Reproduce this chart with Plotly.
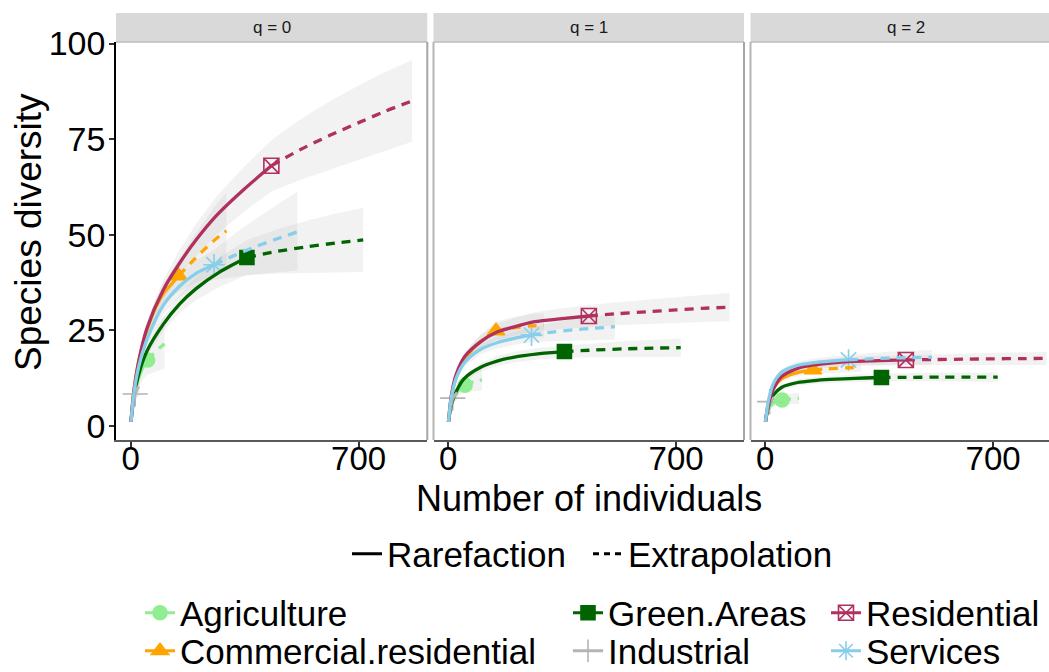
import plotly.graph_objects as go

# ---------------- data ----------------
SERIES = ["Agriculture", "Commercial.residential", "Green.Areas",
          "Industrial", "Residential", "Services"]
PANELS = ["q = 0", "q = 1", "q = 2"]
X_TICKS = [0, 700]
Y_TICKS = [0, 25, 50, 75, 100]

# Agriculture
AGR_RARE_X = [1, 5, 10, 20, 30, 40, 52]
AGR_EXT_X = [52, 65, 78, 91, 104]
AGR_RARE_Y = [[1, 4.6, 7.6, 11.2, 13.7, 15.6, 17.2],
              [1, 3.8, 5.8, 7.8, 9.0, 9.9, 10.6],
              [1, 3.2, 4.4, 5.5, 6.1, 6.45, 6.7]]
AGR_EXT_Y = [[17.2, 18.4, 19.5, 20.5, 21.4],
             [10.6, 11.1, 11.5, 11.8, 12.0],
             [6.7, 6.85, 7.0, 7.1, 7.2]]
AGR_LO = [[1, 3.9, 6.3, 9.2, 11.0, 12.3, 13.3, 13.8, 14.2, 14.6, 15.0],
          [1, 3.3, 5.0, 6.6, 7.5, 8.2, 8.7, 8.9, 9.1, 9.2, 9.3],
          [1, 2.8, 3.8, 4.6, 5.0, 5.3, 5.5, 5.6, 5.6, 5.7, 5.7]]
AGR_HI = [[1, 5.3, 8.9, 13.2, 16.4, 18.9, 21.1, 23.5, 25.6, 27.4, 29.0],
          [1, 4.3, 6.6, 9.0, 10.5, 11.6, 12.5, 13.3, 13.9, 14.4, 14.7],
          [1, 3.6, 5.0, 6.4, 7.2, 7.6, 7.9, 8.1, 8.3, 8.5, 8.7]]

# Commercial.residential
COM_RARE_X = [1, 10, 25, 50, 75, 100, 125, 147]
COM_EXT_X = [147, 185, 220, 255, 294]
COM_RARE_Y = [[1, 9.5, 17, 25, 30.5, 34.5, 37, 39.2],
              [1, 7.5, 12.8, 17.2, 20.0, 22.0, 23.5, 24.8],
              [1, 6.2, 9.8, 12.2, 13.3, 13.9, 14.3, 14.6]]
COM_EXT_Y = [[39.2, 42.6, 45.6, 48.4, 51.0],
             [24.8, 25.4, 25.8, 26.1, 26.3],
             [14.6, 14.85, 15.0, 15.15, 15.3]]
COM_LO = [[1, 9.0, 16.0, 23.3, 28.2, 31.6, 33.6, 35.0, 36.8, 38.2, 39.4, 40.5],
          [1, 7.1, 12.0, 16.0, 18.5, 20.2, 21.4, 22.4, 22.7, 22.9, 23.0, 23.1],
          [1, 5.9, 9.3, 11.5, 12.5, 13.0, 13.4, 13.6, 13.8, 13.9, 14.0, 14.1]]
COM_HI = [[1, 10.0, 18.0, 26.7, 32.8, 37.4, 40.4, 43.4, 48.4, 52.8, 57.0, 61.0],
          [1, 7.9, 13.6, 18.4, 21.5, 23.8, 25.6, 27.2, 28.1, 28.7, 29.2, 29.5],
          [1, 6.5, 10.3, 12.9, 14.1, 14.8, 15.2, 15.6, 15.9, 16.1, 16.3, 16.5]]

# Green.Areas
GRE_RARE_X = [1, 10, 25, 50, 100, 150, 200, 275, 357]
GRE_EXT_X = [357, 450, 540, 630, 714]
GRE_RARE_Y = [[1, 7.5, 13.5, 19.5, 26.5, 31.8, 35.8, 40.3, 44.0],
              [1, 5.5, 9.0, 12.4, 15.3, 16.9, 17.9, 18.8, 19.4],
              [1, 5.0, 8.0, 10.0, 11.3, 11.8, 12.1, 12.4, 12.6]]
GRE_EXT_Y = [[44.0, 45.6, 46.8, 47.8, 48.6],
             [19.4, 19.8, 20.1, 20.3, 20.4],
             [12.6, 12.65, 12.7, 12.7, 12.7]]
GRE_LO = [[1, 7.1, 12.7, 18.3, 24.7, 29.4, 32.8, 36.4, 39.4, 39.8, 40.0, 40.1, 40.2],
          [1, 5.2, 8.5, 11.6, 14.2, 15.6, 16.5, 17.3, 17.8, 17.9, 18.0, 18.0, 18.0],
          [1, 4.7, 7.5, 9.3, 10.5, 10.9, 11.2, 11.4, 11.6, 11.5, 11.5, 11.5, 11.5]]
GRE_HI = [[1, 7.9, 14.3, 20.7, 28.3, 34.2, 38.8, 44.2, 48.6, 51.4, 53.6, 55.5, 57.0],
          [1, 5.8, 9.5, 13.2, 16.4, 18.2, 19.3, 20.3, 21.0, 21.6, 22.1, 22.5, 22.8],
          [1, 5.3, 8.5, 10.7, 12.1, 12.7, 13.0, 13.4, 13.6, 13.8, 13.9, 13.9, 13.9]]

# Industrial
IND_RARE_X = [1, 4, 8, 14]
IND_EXT_X = [14, 21, 28]
IND_RARE_Y = [[1, 3.4, 5.6, 8.3],
              [1, 3.3, 5.2, 7.2],
              [1, 3.1, 4.8, 6.3]]
IND_EXT_Y = [[8.3, 9.8, 11.0],
             [7.2, 8.0, 8.6],
             [6.3, 6.9, 7.3]]
IND_LO = [[1, 3.0, 4.8, 6.8, 7.4, 7.8],
          [1, 2.9, 4.5, 6.0, 6.4, 6.6],
          [1, 2.8, 4.2, 5.3, 5.5, 5.6]]
IND_HI = [[1, 3.8, 6.4, 9.8, 12.2, 14.2],
          [1, 3.7, 5.9, 8.4, 9.6, 10.6],
          [1, 3.4, 5.4, 7.3, 8.3, 9.0]]

# Residential
RES_RARE_X = [1, 10, 25, 50, 100, 150, 200, 266, 350, 432]
RES_EXT_X = [432, 520, 610, 700, 780, 864]
RES_RARE_Y = [[1, 9, 17, 25.5, 35.5, 42.5, 48.5, 55.2, 62.0, 68.0],
              [1, 8, 13.5, 18, 22, 24.5, 25.8, 27.2, 28.0, 28.7],
              [1, 5.5, 9.5, 12.8, 15.0, 15.9, 16.4, 16.8, 17.0, 17.2]]
RES_EXT_Y = [[68.0, 72.2, 75.9, 79.3, 82.2, 85.0],
             [28.7, 29.3, 29.8, 30.3, 30.7, 31.0],
             [17.2, 17.3, 17.4, 17.5, 17.55, 17.6]]
RES_LO = [[1, 8.6, 16.0, 23.8, 32.9, 39.0, 44.3, 50.2, 56.1, 61.3, 64.3, 67.0, 69.6, 71.9, 74.3],
          [1, 7.6, 12.7, 16.7, 20.2, 22.4, 23.5, 24.7, 25.3, 25.8, 26.3, 26.6, 26.9, 27.1, 27.3],
          [1, 5.2, 9.0, 12.0, 14.0, 14.8, 15.2, 15.6, 15.7, 15.9, 15.9, 15.9, 15.9, 15.9, 15.9]]
RES_HI = [[1, 9.4, 18.0, 27.2, 38.1, 46.0, 52.7, 60.2, 67.9, 74.7, 80.1, 84.8, 89.0, 92.5, 95.7],
          [1, 8.4, 14.3, 19.3, 23.8, 26.6, 28.1, 29.7, 30.7, 31.6, 32.3, 33.0, 33.7, 34.2, 34.7],
          [1, 5.8, 10.0, 13.6, 16.0, 17.0, 17.6, 18.0, 18.3, 18.5, 18.7, 18.9, 19.1, 19.2, 19.3]]

# Services
SER_RARE_X = [1, 10, 25, 50, 100, 150, 200, 256]
SER_EXT_X = [256, 320, 385, 450, 512]
SER_RARE_Y = [[1, 8.5, 15.5, 22.5, 31.5, 36.5, 39.8, 42.1],
              [1, 7.5, 12.5, 16.5, 20.0, 21.7, 22.8, 23.7],
              [1, 6.5, 11.0, 14.0, 15.8, 16.5, 16.9, 17.2]]
SER_EXT_Y = [[42.1, 44.6, 46.9, 48.9, 50.7],
             [23.7, 24.5, 25.1, 25.5, 25.9],
             [17.2, 17.5, 17.7, 17.8, 17.9]]
SER_LO = [[1, 8.1, 14.6, 21.0, 29.2, 33.6, 36.4, 38.2, 38.9, 39.6, 40.2, 40.6],
          [1, 7.1, 11.8, 15.5, 18.7, 20.2, 21.1, 21.8, 22.1, 22.3, 22.4, 22.5],
          [1, 6.2, 10.4, 13.2, 14.8, 15.4, 15.7, 15.9, 16.0, 16.0, 16.0, 16.0]]
SER_HI = [[1, 8.9, 16.4, 24.0, 33.8, 39.4, 43.2, 46.0, 50.3, 54.2, 57.8, 61.2],
          [1, 7.9, 13.2, 17.5, 21.3, 23.2, 24.5, 25.6, 26.9, 27.9, 28.6, 29.3],
          [1, 6.8, 11.6, 14.8, 16.8, 17.6, 18.1, 18.5, 19.0, 19.4, 19.6, 19.8]]

# ---------------- styles ----------------
COLORS = {"Agriculture": "#90EE90", "Commercial.residential": "#FFA500",
          "Green.Areas": "#006400", "Industrial": "#B4B4B4",
          "Residential": "#B03060", "Services": "#87CEEB"}
SYMBOLS = {"Agriculture": ("circle", 14), "Commercial.residential": ("triangle-up", 15),
           "Green.Areas": ("square", 14), "Industrial": ("cross-thin-open", 18),
           "Residential": ("square-x-open", 15), "Services": ("asterisk-open", 18)}

DATA = {
    "Agriculture": (AGR_RARE_X, AGR_EXT_X, AGR_RARE_Y, AGR_EXT_Y, AGR_LO, AGR_HI),
    "Commercial.residential": (COM_RARE_X, COM_EXT_X, COM_RARE_Y, COM_EXT_Y, COM_LO, COM_HI),
    "Green.Areas": (GRE_RARE_X, GRE_EXT_X, GRE_RARE_Y, GRE_EXT_Y, GRE_LO, GRE_HI),
    "Industrial": (IND_RARE_X, IND_EXT_X, IND_RARE_Y, IND_EXT_Y, IND_LO, IND_HI),
    "Residential": (RES_RARE_X, RES_EXT_X, RES_RARE_Y, RES_EXT_Y, RES_LO, RES_HI),
    "Services": (SER_RARE_X, SER_EXT_X, SER_RARE_Y, SER_EXT_Y, SER_LO, SER_HI),
}

W, H = 1049, 672
FONT = "Arial, 'Liberation Sans', sans-serif"
PANEL_PX = [(116, 427.3), (433.5, 744), (750.5, 1049)]
TOP_PX, BOT_PX = 42, 440
STRIP_TOP = 13
PX_PER_UNIT = 0.3257
X_LEFT = -45
Y_RANGE = [-3.75, 100.4]


def px(xp):
    return xp / W


def py(yp):
    return 1 - yp / H


fig = go.Figure()
axes = ["x", "x2", "x3"]
LW = 3.3

for p in range(3):
    xa = axes[p]
    # ribbons
    for s in SERIES:
        rx, ex, ry, ey, lo, hi = DATA[s]
        xs = rx + ex[1:]
        fig.add_trace(go.Scatter(
            x=xs + xs[::-1], y=hi[p] + lo[p][::-1], xaxis=xa, yaxis="y",
            fill="toself", fillcolor="rgba(175,175,175,0.16)", line=dict(width=0),
            mode="lines", hoverinfo="skip", showlegend=False))
    # observed points
    for s in SERIES:
        rx, ex, ry, ey, lo, hi = DATA[s]
        sym, size = SYMBOLS[s]
        fig.add_trace(go.Scatter(
            x=[rx[-1]], y=[ry[p][-1]], xaxis=xa, yaxis="y", mode="markers",
            marker=dict(symbol=sym, size=size, color=COLORS[s],
                        line=dict(color=COLORS[s], width=1.6)),
            showlegend=False))
    # lines
    for s in SERIES:
        rx, ex, ry, ey, lo, hi = DATA[s]
        fig.add_trace(go.Scatter(
            x=rx, y=ry[p], xaxis=xa, yaxis="y", mode="lines",
            line=dict(color=COLORS[s], width=LW, shape="spline", smoothing=0.8),
            showlegend=False))
        fig.add_trace(go.Scatter(
            x=ex, y=ey[p], xaxis=xa, yaxis="y", mode="lines",
            line=dict(color=COLORS[s], width=LW, dash="9px,7px", shape="spline",
                      smoothing=0.8),
            showlegend=False))

# ---------------- legends ----------------
LEG_FONT = 35
fig.add_trace(go.Scatter(x=[None], y=[None], mode="lines", name="Rarefaction",
                         line=dict(color="black", width=3), legend="legend"))
fig.add_trace(go.Scatter(x=[None], y=[None], mode="lines", name="Extrapolation",
                         line=dict(color="black", width=3, dash="6px,5px"),
                         legend="legend2"))
LEG_POS = {"Agriculture": (180, 613), "Commercial.residential": (180, 651),
           "Green.Areas": (608, 613), "Industrial": (608, 651),
           "Residential": (866, 613), "Services": (866, 651)}
legend_layout = {}
for i, s in enumerate(SERIES):
    key = "legend%d" % (i + 3)
    sym, size = SYMBOLS[s]
    fig.add_trace(go.Scatter(
        x=[None], y=[None], mode="lines+markers", name=s, legend=key,
        line=dict(color=COLORS[s], width=3),
        marker=dict(symbol=sym, size=size, color=COLORS[s],
                    line=dict(color=COLORS[s], width=1.6))))
    tx, ty = LEG_POS[s]
    legend_layout[key] = dict(x=px(tx - 40), y=py(ty), xanchor="left", yanchor="middle",
                              font=dict(size=LEG_FONT, family=FONT, color="black"),
                              bgcolor="rgba(0,0,0,0)", borderwidth=0)

legend_layout["legend"] = dict(x=px(387 - 40), y=py(554), xanchor="left", yanchor="middle",
                               font=dict(size=LEG_FONT, family=FONT, color="black"),
                               bgcolor="rgba(0,0,0,0)", borderwidth=0)
legend_layout["legend2"] = dict(x=px(628 - 40), y=py(554), xanchor="left", yanchor="middle",
                                font=dict(size=LEG_FONT, family=FONT, color="black"),
                                bgcolor="rgba(0,0,0,0)", borderwidth=0)

# ---------------- axes ----------------
layout_axes = {}
for p in range(3):
    l, r = PANEL_PX[p]
    xr = [X_LEFT, X_LEFT + (r - l) / PX_PER_UNIT]
    name = "xaxis" if p == 0 else "xaxis%d" % (p + 1)
    layout_axes[name] = dict(
        domain=[px(l), px(r)], range=xr, anchor="y",
        tickvals=X_TICKS, ticktext=[str(v) for v in X_TICKS],
        ticks="outside", ticklen=5, tickwidth=1.5, tickcolor="#333333",
        ticklabelstandoff=-17,
        showline=True, linecolor="#5a5a5a", linewidth=2,
        showgrid=False, zeroline=False,
        tickfont=dict(size=33, family=FONT, color="black"))
layout_axes["yaxis"] = dict(
    domain=[py(BOT_PX), py(TOP_PX)], range=Y_RANGE, anchor="x",
    tickvals=Y_TICKS, ticktext=[str(v) for v in Y_TICKS],
    ticks="outside", ticklen=5, tickwidth=1.5, tickcolor="#333333",
    ticklabelstandoff=-3,
    showline=True, linecolor="black", linewidth=1.5,
    showgrid=False, zeroline=False,
    tickfont=dict(size=34, family=FONT, color="black"))

# ---------------- shapes: strips and panel borders ----------------
shapes = []
annotations = []
for p in range(3):
    l, r = PANEL_PX[p]
    shapes.append(dict(type="rect", xref="paper", yref="paper",
                       x0=px(l), x1=px(r), y0=py(TOP_PX), y1=py(STRIP_TOP),
                       fillcolor="#D9D9D9", line=dict(width=0), layer="below"))
    shapes.append(dict(type="line", xref="paper", yref="paper",
                       x0=px(l), x1=px(r), y0=py(TOP_PX), y1=py(TOP_PX),
                       line=dict(color="#BDBDBD", width=1.5)))
    if p < 2:
        shapes.append(dict(type="line", xref="paper", yref="paper",
                           x0=px(r), x1=px(r), y0=py(BOT_PX), y1=py(TOP_PX),
                           line=dict(color="#A6A6A6", width=2)))
    if p > 0:
        shapes.append(dict(type="line", xref="paper", yref="paper",
                           x0=px(l), x1=px(l), y0=py(BOT_PX), y1=py(TOP_PX),
                           line=dict(color="#B5B5B5", width=2)))
    cx = (l + (l + 311)) / 2
    annotations.append(dict(text=PANELS[p], xref="paper", yref="paper",
                            x=px(cx), y=py((STRIP_TOP + TOP_PX) / 2),
                            showarrow=False, xanchor="center", yanchor="middle",
                            font=dict(size=17, family=FONT, color="#1A1A1A")))

annotations.append(dict(text="Species diversity", xref="paper", yref="paper",
                        x=px(28), y=py(232), textangle=-90, showarrow=False,
                        xanchor="center", yanchor="middle",
                        font=dict(size=37, family=FONT, color="black")))
annotations.append(dict(text="Number of individuals", xref="paper", yref="paper",
                        x=px(588.5), y=py(498), showarrow=False,
                        xanchor="center", yanchor="middle",
                        font=dict(size=36, family=FONT, color="black")))

fig.update_layout(
    width=W, height=H,
    margin=dict(l=0, r=0, t=0, b=0, autoexpand=False),
    paper_bgcolor="white", plot_bgcolor="white",
    font=dict(family=FONT, color="black"),
    shapes=shapes, annotations=annotations,
    **layout_axes, **legend_layout)

fig.write_html("out.html",
               config={"displayModeBar": False},
               post_script="document.body.style.margin='0';"
                           "document.body.style.overflow='hidden';")
